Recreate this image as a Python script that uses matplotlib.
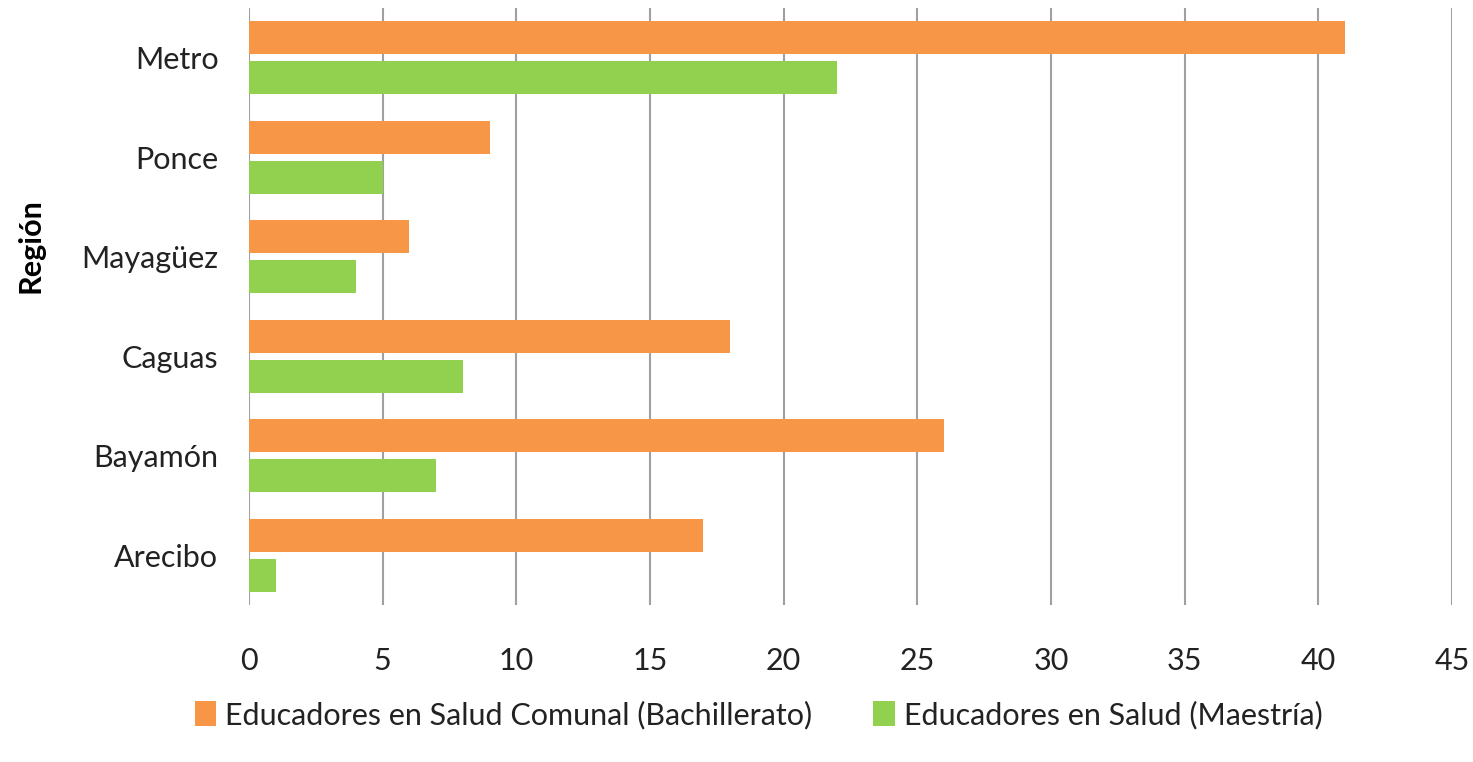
import matplotlib
matplotlib.use("Agg")
import matplotlib.pyplot as plt
import numpy as np

# datos
regiones = ["Metro", "Ponce", "Mayagüez", "Caguas", "Bayamón", "Arecibo"]
bachillerato = [41, 9, 6, 18, 26, 17]
maestria = [22, 5, 4, 8, 7, 1]
serie_b = "Educadores en Salud Comunal (Bachillerato)"
serie_m = "Educadores en Salud (Maestría)"
xticks = [0, 5, 10, 15, 20, 25, 30, 35, 40, 45]

plt.rcParams['font.family'] = ['Lato', 'DejaVu Sans']

fig = plt.figure(figsize=(14.73, 7.62), dpi=100)
ax = fig.add_axes([0.169, 0.206, 0.8167, 0.7835])

y = np.arange(len(regiones))
h = 0.33
ax.barh(y - 0.2, bachillerato, height=h, color="#F79646", label=serie_b, zorder=3)
ax.barh(y + 0.2, maestria, height=h, color="#92D050", label=serie_m, zorder=3)

ax.set_ylim(len(regiones) - 0.5, -0.5)
ax.set_xlim(0, 45)
ax.set_xticks(xticks)
ax.set_yticks(y)
ax.set_yticklabels(regiones, fontsize=22, color="#222222")
ax.tick_params(axis="x", labelsize=22, length=0, pad=30, labelcolor="#222222")
ax.tick_params(axis="y", length=0, pad=22)
ax.grid(axis="x", color="#a0a0a0", linewidth=1.5, zorder=0)
for s in ax.spines.values():
    s.set_visible(False)

fig.text(0.021, 0.678, "Región", rotation=90, fontsize=22, fontweight="bold",
         ha="center", va="center")

fig.legend(loc="center", bbox_to_anchor=(0.515, 0.062), ncol=2, frameon=False,
           fontsize=22, handlelength=0.7, handleheight=0.9, handletextpad=0.3,
           columnspacing=2.0, labelcolor="#222222")

plt.savefig("out.png", dpi=100)
